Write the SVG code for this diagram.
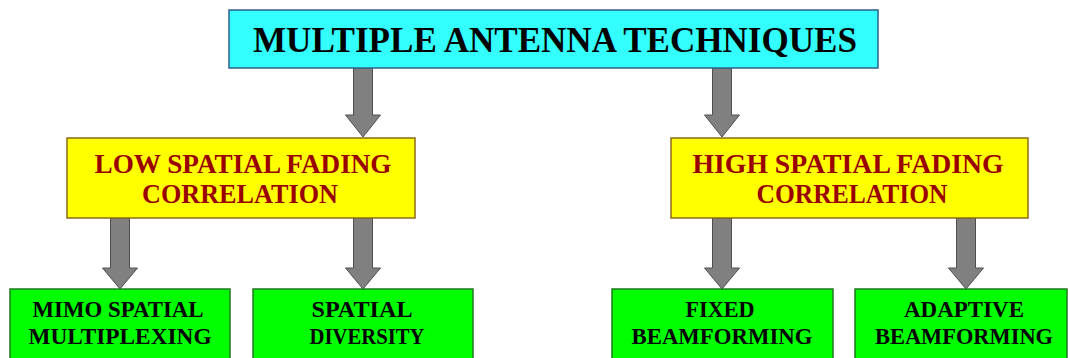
<svg xmlns="http://www.w3.org/2000/svg" width="1068" height="358" viewBox="0 0 1068 358">
<style>
.title{font-family:"Liberation Serif","Times New Roman",serif;font-weight:bold;font-size:35px;fill:#000;text-anchor:middle}
.ytxt{font-family:"Liberation Serif","Times New Roman",serif;font-weight:bold;font-size:28px;fill:#990000;text-anchor:middle}
.gtxt{font-family:"Liberation Serif","Times New Roman",serif;font-weight:bold;font-size:24px;fill:#000;text-anchor:middle}
.cyan{fill:#33FFFF;stroke:#2F5F8F;stroke-width:1.5}
.yel{fill:#FFFF00;stroke:#8C6A1A;stroke-width:1.5}
.grn{fill:#00FF00;stroke:#1E7A1E;stroke-width:1.5}
.arrow{fill:#808080;stroke:#505050;stroke-width:1}
</style>
<rect width="1068" height="358" fill="#ffffff"/>
<g id="connectors">
<path class="arrow" d="M353.5,68 H372.5 V115 H380.5 L363,137 L345.5,115 H353.5 Z"/>
<path class="arrow" d="M712.5,68 H731.5 V115 H739.5 L722,137 L704.5,115 H712.5 Z"/>
<path class="arrow" d="M110.5,218 H129.5 V268 H137.5 L120,289 L102.5,268 H110.5 Z"/>
<path class="arrow" d="M353.5,218 H372.5 V268 H380.5 L363,289 L345.5,268 H353.5 Z"/>
<path class="arrow" d="M712.5,218 H731.5 V268 H739.5 L722,289 L704.5,268 H712.5 Z"/>
<path class="arrow" d="M956.5,218 H975.5 V268 H983.5 L966,289 L948.5,268 H956.5 Z"/>
</g>
<g id="root">
<rect class="cyan" x="229" y="10" width="649" height="58"/>
<text class="title" x="555" y="52" textLength="604" lengthAdjust="spacingAndGlyphs">MULTIPLE ANTENNA TECHNIQUES</text>
</g>
<g id="low">
<rect class="yel" x="67" y="138" width="348" height="80"/>
<text class="ytxt" x="243" y="173" textLength="297" lengthAdjust="spacingAndGlyphs">LOW SPATIAL FADING</text>
<text class="ytxt" x="240" y="203" textLength="196" lengthAdjust="spacingAndGlyphs">CORRELATION</text>
</g>
<g id="high">
<rect class="yel" x="671" y="138" width="357" height="80"/>
<text class="ytxt" x="848" y="173" textLength="311" lengthAdjust="spacingAndGlyphs">HIGH SPATIAL FADING</text>
<text class="ytxt" x="852" y="203" textLength="191" lengthAdjust="spacingAndGlyphs">CORRELATION</text>
</g>
<g id="mimo">
<rect class="grn" x="10" y="289" width="220" height="75"/>
<text class="gtxt" x="118" y="317" textLength="171" lengthAdjust="spacingAndGlyphs">MIMO SPATIAL</text>
<text class="gtxt" x="120" y="344" textLength="183" lengthAdjust="spacingAndGlyphs">MULTIPLEXING</text>
</g>
<g id="diversity">
<rect class="grn" x="253" y="289" width="220" height="75"/>
<text class="gtxt" x="362" y="317" textLength="101" lengthAdjust="spacingAndGlyphs">SPATIAL</text>
<text class="gtxt" x="367" y="344" textLength="115" lengthAdjust="spacingAndGlyphs">DIVERSITY</text>
</g>
<g id="fixed">
<rect class="grn" x="612" y="289" width="221" height="75"/>
<text class="gtxt" x="720" y="317" textLength="69" lengthAdjust="spacingAndGlyphs">FIXED</text>
<text class="gtxt" x="722" y="344" textLength="181" lengthAdjust="spacingAndGlyphs">BEAMFORMING</text>
</g>
<g id="adaptive">
<rect class="grn" x="855" y="289" width="212" height="75"/>
<text class="gtxt" x="964" y="317" textLength="120" lengthAdjust="spacingAndGlyphs">ADAPTIVE</text>
<text class="gtxt" x="964" y="344" textLength="178" lengthAdjust="spacingAndGlyphs">BEAMFORMING</text>
</g>
</svg>
